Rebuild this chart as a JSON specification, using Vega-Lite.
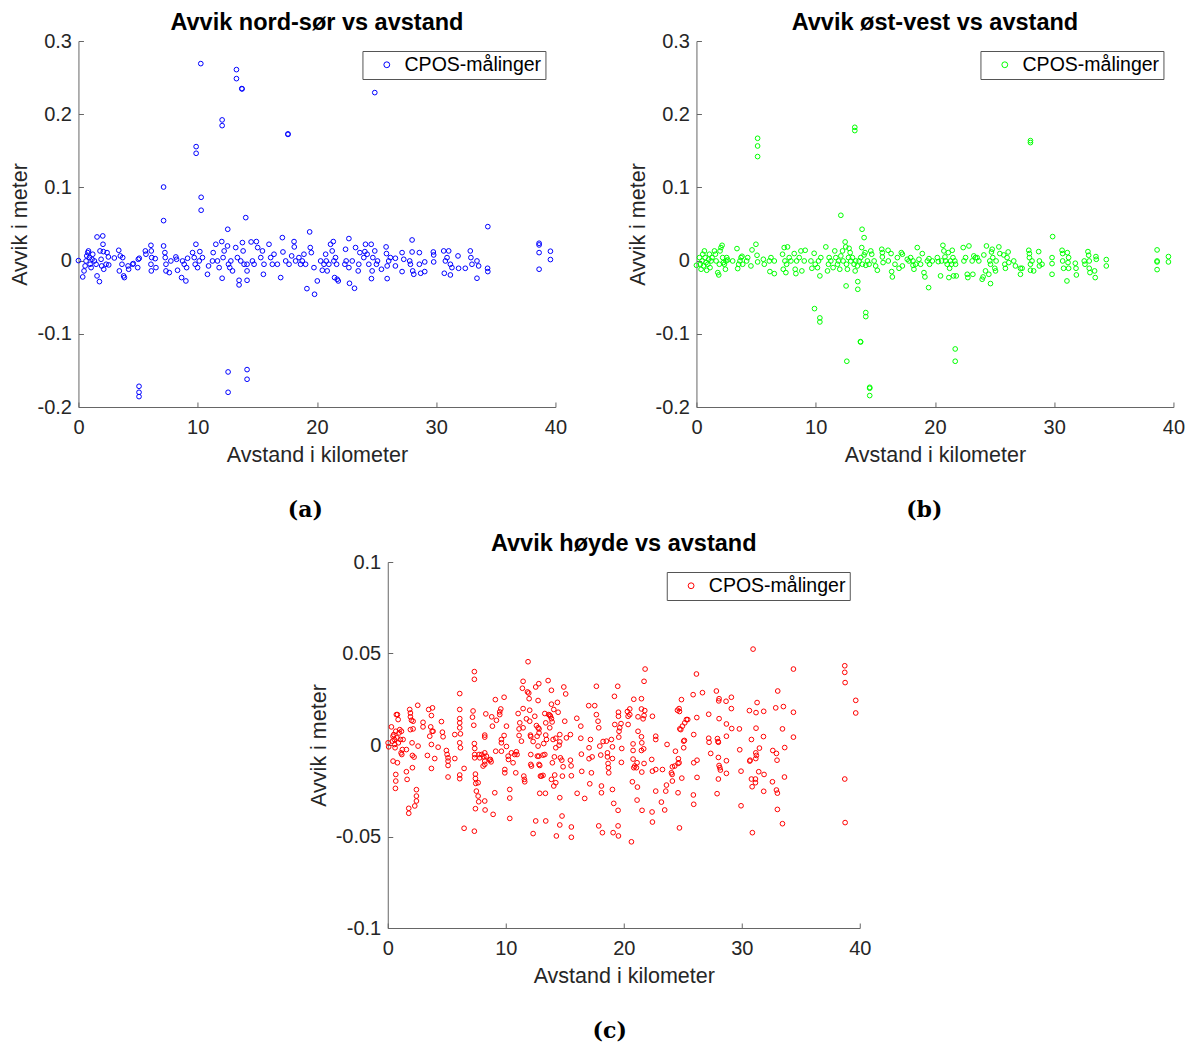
{
"$schema": "https://vega.github.io/schema/vega-lite/v6.json",
"background": "white",
"padding": {"left": 9, "top": 10, "right": 0, "bottom": 0},
"config": {
  "view": {"stroke": null},
  "font": "Liberation Sans",
  "axis": {"grid": false, "labelFlush": false, "domainColor": "#666666", "domainWidth": 1, "tickColor": "#666666", "tickSize": -5, "tickWidth": 1, "labelColor": "#262626", "titleColor": "#262626", "labelFontSize": 20, "titleFontSize": 21.5, "titleFontWeight": "normal", "labelFont": "Liberation Sans", "titleFont": "Liberation Sans"},
  "axisX": {"labelPadding": 15, "titlePadding": 7},
  "axisY": {"labelPadding": 12, "titlePadding": 5},
  "title": {"font": "Liberation Sans", "fontSize": 23.5, "fontWeight": "bold", "color": "#000000"},
  "legend": {"strokeColor": "#555555", "fillColor": "white", "padding": 4, "labelFontSize": 19.5, "labelFont": "Liberation Sans", "labelColor": "#000000", "symbolSize": 34, "symbolStrokeWidth": 1, "symbolType": "circle", "symbolOffset": 10.6, "labelOffset": 8}
},
"datasets": {
"a": [
{"km":0,"avvik":0},{"km":0.36,"avvik":-0.0223},{"km":0.47,"avvik":-0.0141},{"km":0.56,"avvik":-0.0073},{"km":0.64,"avvik":-0.0005},{"km":0.70,"avvik":0.0064},{"km":0.78,"avvik":0.0109},{"km":0.84,"avvik":0.0132},{"km":0.92,"avvik":0.0041},{"km":0.98,"avvik":-0.0050},
{"km":1.06,"avvik":-0.0096},{"km":1.14,"avvik":0.0018},{"km":1.20,"avvik":0.0087},{"km":1.34,"avvik":-0.0005},{"km":1.48,"avvik":-0.0050},{"km":1.56,"avvik":0.0323},{"km":1.56,"avvik":-0.0209},{"km":1.76,"avvik":-0.0287},{"km":1.81,"avvik":0.0132},{"km":1.90,"avvik":0.0018},
{"km":1.95,"avvik":-0.0073},{"km":2.04,"avvik":0.0337},{"km":2.06,"avvik":0.0223},{"km":2.09,"avvik":0.0123},{"km":2.12,"avvik":-0.0118},{"km":2.32,"avvik":-0.0050},{"km":2.40,"avvik":0.0109},{"km":2.51,"avvik":0.0050},{"km":2.54,"avvik":-0.0059},{"km":3.01,"avvik":0.0036},
{"km":3.38,"avvik":0.0141},{"km":3.43,"avvik":-0.0141},{"km":3.51,"avvik":0.0064},{"km":3.65,"avvik":-0.0050},{"km":3.71,"avvik":0.0041},{"km":3.79,"avvik":-0.0209},{"km":3.85,"avvik":-0.0232},{"km":4.16,"avvik":-0.0073},{"km":4.21,"avvik":-0.0118},{"km":4.55,"avvik":-0.0050},
{"km":4.60,"avvik":-0.0041},{"km":4.97,"avvik":-0.0096},{"km":5.02,"avvik":0.0018},{"km":5.10,"avvik":0.0032},{"km":5.61,"avvik":0.0132},{"km":5.66,"avvik":0.0087},{"km":6.08,"avvik":0.0209},{"km":6.11,"avvik":0.0132},{"km":6.14,"avvik":0.0041},{"km":6.08,"avvik":-0.0050},
{"km":6.11,"avvik":-0.0141},{"km":6.44,"avvik":0.0027},{"km":6.50,"avvik":-0.0096},{"km":7.14,"avvik":0.0200},{"km":7.25,"avvik":0.0109},{"km":7.28,"avvik":0.0041},{"km":7.34,"avvik":-0.0050},{"km":7.34,"avvik":-0.0141},{"km":7.62,"avvik":-0.0164},{"km":7.75,"avvik":-0.0005},
{"km":8.17,"avvik":0.0050},{"km":8.23,"avvik":0.0018},{"km":8.31,"avvik":-0.0132},{"km":8.65,"avvik":-0.0232},{"km":8.73,"avvik":-0.0005},{"km":8.87,"avvik":-0.0050},{"km":9.01,"avvik":-0.0278},{"km":9.15,"avvik":0.0032},{"km":9.07,"avvik":-0.0096},{"km":9.57,"avvik":0.0109},
{"km":9.71,"avvik":0.0041},{"km":9.85,"avvik":0.0223},{"km":9.79,"avvik":-0.0050},{"km":9.99,"avvik":-0.0096},{"km":10.13,"avvik":-0.0005},{"km":10.18,"avvik":0.0123},{"km":10.40,"avvik":0.0041},{"km":10.82,"avvik":-0.0187},{"km":10.91,"avvik":-0.0073},{"km":11.24,"avvik":-0.0005},
{"km":11.30,"avvik":0.0109},{"km":11.52,"avvik":0.0223},{"km":11.66,"avvik":-0.0005},{"km":11.80,"avvik":-0.0096},{"km":12.02,"avvik":0.0260},{"km":12.05,"avvik":-0.0241},{"km":12.13,"avvik":0.0041},{"km":12.22,"avvik":0.0132},{"km":12.50,"avvik":0.0200},{"km":12.58,"avvik":-0.0050},
{"km":12.69,"avvik":-0.0096},{"km":12.78,"avvik":-0.0005},{"km":12.92,"avvik":-0.0141},{"km":13.19,"avvik":0.0178},{"km":13.33,"avvik":0.0041},{"km":13.47,"avvik":-0.0269},{"km":13.47,"avvik":-0.0332},{"km":13.61,"avvik":-0.0005},{"km":13.75,"avvik":0.0246},{"km":13.81,"avvik":0.0132},
{"km":13.89,"avvik":-0.0050},{"km":14.14,"avvik":-0.0050},{"km":14.14,"avvik":-0.0141},{"km":14.14,"avvik":-0.0269},{"km":14.48,"avvik":0.0255},{"km":14.59,"avvik":-0.0005},{"km":14.73,"avvik":-0.0050},{"km":14.92,"avvik":0.0260},{"km":15.03,"avvik":0.0178},{"km":15.29,"avvik":0.0041},
{"km":15.43,"avvik":0.0132},{"km":15.51,"avvik":-0.0187},{"km":15.56,"avvik":-0.0050},{"km":15.98,"avvik":0.0223},{"km":16.12,"avvik":0.0041},{"km":16.26,"avvik":-0.0050},{"km":16.40,"avvik":0.0087},{"km":16.68,"avvik":-0.0050},{"km":16.96,"avvik":-0.0232},{"km":17.10,"avvik":0.0314},
{"km":17.15,"avvik":0.0118},{"km":17.38,"avvik":-0.0005},{"km":17.66,"avvik":-0.0050},{"km":17.88,"avvik":0.0064},{"km":18.08,"avvik":0.0260},{"km":18.10,"avvik":0.0187},{"km":18.21,"avvik":-0.0005},{"km":18.49,"avvik":0.0041},{"km":18.63,"avvik":-0.0050},{"km":18.77,"avvik":-0.0005},
{"km":18.91,"avvik":0.0087},{"km":19.05,"avvik":-0.0050},{"km":19.16,"avvik":-0.0383},{"km":19.39,"avvik":0.0392},{"km":19.44,"avvik":0.0178},{"km":19.53,"avvik":0.0109},{"km":19.75,"avvik":-0.0096},{"km":19.80,"avvik":-0.0460},{"km":20.03,"avvik":-0.0278},
{"km":20.31,"avvik":-0.0005},{"km":20.45,"avvik":-0.0132},{"km":20.59,"avvik":-0.0050},{"km":20.73,"avvik":0.0087},{"km":20.78,"avvik":-0.0005},{"km":20.86,"avvik":-0.0141},{"km":21.00,"avvik":-0.0050},{"km":21.14,"avvik":0.0223},{"km":21.28,"avvik":0.0132},{"km":21.37,"avvik":0.0260},
{"km":21.42,"avvik":-0.0005},{"km":21.48,"avvik":-0.0232},{"km":21.56,"avvik":0.0041},{"km":21.65,"avvik":-0.0050},{"km":21.70,"avvik":-0.0255},{"km":21.79,"avvik":-0.0278},{"km":22.34,"avvik":-0.0050},{"km":22.40,"avvik":0.0155},{"km":22.45,"avvik":-0.0005},{"km":22.68,"avvik":0.0301},
{"km":22.68,"avvik":-0.0096},{"km":22.73,"avvik":-0.0310},{"km":22.96,"avvik":-0.0005},{"km":23.15,"avvik":-0.0378},{"km":23.24,"avvik":0.0178},{"km":23.46,"avvik":-0.0141},{"km":23.51,"avvik":-0.0050},{"km":23.60,"avvik":0.0109},{"km":23.93,"avvik":0.0041},{"km":24.02,"avvik":0.0123},
{"km":24.07,"avvik":0.0223},{"km":24.21,"avvik":0.0087},{"km":24.35,"avvik":-0.0050},{"km":24.55,"avvik":0.0223},{"km":24.63,"avvik":-0.0141},{"km":24.57,"avvik":-0.0246},{"km":24.69,"avvik":0.0041},{"km":24.85,"avvik":0.0132},{"km":24.99,"avvik":-0.0050},{"km":25.08,"avvik":-0.0005},
{"km":25.41,"avvik":-0.0118},{"km":25.80,"avvik":0.0187},{"km":25.83,"avvik":0.0096},{"km":25.89,"avvik":-0.0073},{"km":25.89,"avvik":-0.0246},{"km":26.02,"avvik":-0.0005},{"km":26.16,"avvik":0.0041},{"km":26.58,"avvik":0.0032},{"km":26.58,"avvik":-0.0073},{"km":27.14,"avvik":0.0109},
{"km":27.14,"avvik":-0.0150},{"km":27.28,"avvik":0.0018},{"km":27.78,"avvik":-0.0005},{"km":27.84,"avvik":-0.0050},{"km":27.98,"avvik":0.0282},{"km":27.98,"avvik":0.0118},{"km":28.03,"avvik":-0.0141},{"km":28.12,"avvik":-0.0187},{"km":28.59,"avvik":0.0109},{"km":28.59,"avvik":-0.0050},
{"km":28.70,"avvik":-0.0173},{"km":29.04,"avvik":-0.0018},{"km":29.04,"avvik":-0.0150},{"km":29.76,"avvik":0.0118},{"km":29.79,"avvik":0.0077},{"km":29.79,"avvik":-0.0018},{"km":30.63,"avvik":0.0132},{"km":30.68,"avvik":-0.0173},{"km":30.77,"avvik":-0.0005},{"km":30.91,"avvik":0.0041},
{"km":31.05,"avvik":0.0132},{"km":31.19,"avvik":-0.0050},{"km":31.19,"avvik":-0.0196},{"km":31.32,"avvik":-0.0096},{"km":31.83,"avvik":0.0064},{"km":31.88,"avvik":-0.0105},{"km":32.44,"avvik":-0.0105},{"km":32.86,"avvik":0.0132},{"km":32.91,"avvik":0.0041},{"km":33.00,"avvik":-0.0050},
{"km":33.42,"avvik":-0.0005},{"km":33.42,"avvik":-0.0241},{"km":33.56,"avvik":-0.0073},{"km":34.31,"avvik":-0.0105},{"km":34.33,"avvik":-0.0150},
{"km":38.63,"avvik":0.0237},{"km":38.63,"avvik":0.0214},{"km":38.63,"avvik":0.0109},{"km":38.63,"avvik":-0.0118},{"km":39.58,"avvik":0.0128},{"km":39.58,"avvik":0.0014},
{"km":24.85,"avvik":0.2295},{"km":34.33,"avvik":0.0464},
{"km":10.26,"avvik":0.2691},{"km":13.25,"avvik":0.2609},{"km":13.25,"avvik":0.2486},{"km":13.70,"avvik":0.2350},{"km":13.72,"avvik":0.2345},{"km":12.05,"avvik":0.1922},{"km":12.05,"avvik":0.1844},{"km":17.57,"avvik":0.1731},{"km":17.57,"avvik":0.1724},{"km":9.87,"avvik":0.1557},
{"km":9.87,"avvik":0.1466},{"km":7.14,"avvik":0.1005},{"km":10.29,"avvik":0.0865},{"km":10.29,"avvik":0.0688},{"km":7.14,"avvik":0.0546},{"km":14.03,"avvik":0.0587},{"km":12.52,"avvik":0.0428},
{"km":5.08,"avvik":-0.1717},{"km":5.08,"avvik":-0.1799},{"km":5.08,"avvik":-0.1858},{"km":12.55,"avvik":-0.1521},{"km":12.55,"avvik":-0.1799},{"km":14.14,"avvik":-0.1489},{"km":14.14,"avvik":-0.1621}
],
"b": [
{"km":0,"avvik":-0.0064},{"km":0.25,"avvik":0.0041},{"km":0.33,"avvik":-0.0050},{"km":0.39,"avvik":-0.0118},{"km":0.47,"avvik":-0.0005},{"km":0.53,"avvik":0.0087},{"km":0.59,"avvik":-0.0073},{"km":0.67,"avvik":0.0132},{"km":0.73,"avvik":0.0041},{"km":0.81,"avvik":-0.0027},
{"km":0.86,"avvik":-0.0132},{"km":0.95,"avvik":-0.0050},{"km":1.03,"avvik":0.0018},{"km":1.09,"avvik":0.0087},{"km":1.14,"avvik":-0.0096},{"km":1.23,"avvik":-0.0005},{"km":1.31,"avvik":0.0041},{"km":1.51,"avvik":0.0132},{"km":1.59,"avvik":0.0087},{"km":1.65,"avvik":-0.0005},
{"km":1.79,"avvik":-0.0164},{"km":1.87,"avvik":-0.0196},{"km":1.92,"avvik":-0.0050},{"km":1.98,"avvik":0.0132},{"km":2.06,"avvik":0.0178},{"km":2.15,"avvik":0.0209},{"km":2.20,"avvik":0.0041},{"km":2.26,"avvik":-0.0027},{"km":2.34,"avvik":-0.0050},{"km":2.43,"avvik":-0.0118},
{"km":2.48,"avvik":-0.0005},{"km":2.54,"avvik":0.0041},{"km":2.62,"avvik":0.0009},{"km":3.04,"avvik":-0.0005},{"km":3.40,"avvik":0.0164},{"km":3.46,"avvik":-0.0109},{"km":3.54,"avvik":-0.0050},{"km":3.65,"avvik":-0.0005},{"km":3.74,"avvik":0.0041},{"km":3.82,"avvik":0.0059},
{"km":3.88,"avvik":-0.0050},{"km":4.21,"avvik":-0.0005},{"km":4.30,"avvik":0.0041},{"km":4.57,"avvik":-0.0073},{"km":4.66,"avvik":0.0146},{"km":4.99,"avvik":0.0223},{"km":5.08,"avvik":0.0073},{"km":5.13,"avvik":-0.0018},{"km":5.61,"avvik":0.0018},{"km":5.69,"avvik":-0.0050},
{"km":6.11,"avvik":-0.0005},{"km":6.16,"avvik":-0.0150},{"km":6.25,"avvik":0.0041},{"km":6.53,"avvik":-0.0178},{"km":6.53,"avvik":-0.0005},{"km":7.22,"avvik":0.0087},{"km":7.28,"avvik":-0.0118},{"km":7.36,"avvik":0.0178},{"km":7.42,"avvik":-0.0005},{"km":7.50,"avvik":-0.0164},
{"km":7.56,"avvik":-0.0050},{"km":7.64,"avvik":0.0187},{"km":7.78,"avvik":0.0041},{"km":7.92,"avvik":-0.0005},{"km":8.20,"avvik":0.0096},{"km":8.28,"avvik":-0.0118},{"km":8.34,"avvik":-0.0178},{"km":8.40,"avvik":-0.0005},{"km":8.62,"avvik":0.0041},{"km":8.76,"avvik":0.0132},
{"km":8.84,"avvik":-0.0141},{"km":9.04,"avvik":-0.0005},{"km":9.12,"avvik":0.0141},{"km":9.60,"avvik":-0.0005},{"km":9.68,"avvik":-0.0105},{"km":9.87,"avvik":0.0100},{"km":9.96,"avvik":-0.0050},{"km":10.15,"avvik":-0.0096},{"km":10.24,"avvik":-0.0005},{"km":10.35,"avvik":-0.0209},
{"km":10.43,"avvik":0.0041},{"km":10.85,"avvik":0.0187},{"km":10.99,"avvik":-0.0141},{"km":11.07,"avvik":-0.0050},{"km":11.13,"avvik":0.0041},{"km":11.27,"avvik":-0.0005},{"km":11.46,"avvik":-0.0096},{"km":11.60,"avvik":0.0132},{"km":11.69,"avvik":0.0041},{"km":11.83,"avvik":-0.0050},
{"km":11.91,"avvik":-0.0005},{"km":12.02,"avvik":-0.0118},{"km":12.11,"avvik":0.0064},{"km":12.25,"avvik":0.0132},{"km":12.30,"avvik":-0.0005},{"km":12.47,"avvik":0.0255},{"km":12.52,"avvik":0.0187},{"km":12.58,"avvik":-0.0050},{"km":12.66,"avvik":-0.0118},{"km":12.75,"avvik":0.0041},
{"km":12.80,"avvik":0.0168},{"km":12.89,"avvik":0.0109},{"km":12.94,"avvik":-0.0005},{"km":13.08,"avvik":0.0041},{"km":13.22,"avvik":-0.0050},{"km":13.31,"avvik":-0.0141},{"km":13.36,"avvik":-0.0005},{"km":13.50,"avvik":-0.0073},{"km":13.64,"avvik":-0.0005},{"km":13.78,"avvik":0.0041},
{"km":13.86,"avvik":0.0178},{"km":13.92,"avvik":-0.0050},{"km":14.06,"avvik":0.0077},{"km":14.14,"avvik":0.0109},{"km":14.20,"avvik":-0.0064},{"km":14.34,"avvik":-0.0005},{"km":14.48,"avvik":-0.0050},{"km":14.62,"avvik":0.0132},{"km":14.70,"avvik":0.0087},{"km":14.90,"avvik":-0.0005},
{"km":15.03,"avvik":-0.0073},{"km":15.17,"avvik":-0.0132},{"km":15.54,"avvik":0.0155},{"km":15.59,"avvik":0.0109},{"km":15.59,"avvik":0.0050},{"km":15.65,"avvik":-0.0027},{"km":16.07,"avvik":0.0141},{"km":16.09,"avvik":-0.0005},{"km":16.32,"avvik":0.0096},{"km":16.37,"avvik":-0.0150},
{"km":16.43,"avvik":-0.0223},{"km":16.65,"avvik":-0.0050},{"km":16.85,"avvik":0.0041},{"km":16.99,"avvik":-0.0105},{"km":17.18,"avvik":0.0109},{"km":17.27,"avvik":0.0087},{"km":17.27,"avvik":-0.0073},{"km":17.68,"avvik":0.0018},{"km":17.82,"avvik":-0.0005},{"km":17.96,"avvik":0.0041},
{"km":18.16,"avvik":-0.0005},{"km":18.16,"avvik":-0.0064},{"km":18.24,"avvik":-0.0118},{"km":18.38,"avvik":-0.0050},{"km":18.52,"avvik":0.0178},{"km":18.66,"avvik":0.0018},{"km":18.80,"avvik":-0.0050},{"km":18.94,"avvik":0.0096},{"km":19.08,"avvik":-0.0164},{"km":19.16,"avvik":-0.0223},
{"km":19.36,"avvik":-0.0005},{"km":19.50,"avvik":0.0027},{"km":19.55,"avvik":-0.0050},{"km":19.78,"avvik":-0.0005},{"km":20.20,"avvik":0.0041},{"km":20.28,"avvik":-0.0014},
{"km":20.47,"avvik":-0.0209},{"km":20.56,"avvik":-0.0005},{"km":20.67,"avvik":0.0209},{"km":20.75,"avvik":0.0132},{"km":20.84,"avvik":0.0050},{"km":20.89,"avvik":-0.0005},{"km":21.03,"avvik":-0.0050},{"km":21.12,"avvik":0.0109},{"km":21.17,"avvik":-0.0232},{"km":21.23,"avvik":-0.0105},
{"km":21.31,"avvik":-0.0005},{"km":21.39,"avvik":-0.0050},{"km":21.45,"avvik":0.0141},{"km":21.51,"avvik":0.0041},{"km":21.56,"avvik":-0.0209},{"km":21.67,"avvik":-0.0005},{"km":21.73,"avvik":-0.0050},{"km":21.79,"avvik":-0.0209},{"km":22.37,"avvik":0.0178},{"km":22.43,"avvik":-0.0005},
{"km":22.57,"avvik":0.0041},{"km":22.71,"avvik":-0.0187},{"km":22.76,"avvik":-0.0232},{"km":22.85,"avvik":0.0200},{"km":23.12,"avvik":-0.0005},{"km":23.18,"avvik":-0.0187},{"km":23.26,"avvik":0.0064},{"km":23.40,"avvik":0.0041},{"km":23.54,"avvik":0.0041},{"km":23.68,"avvik":-0.0005},
{"km":23.96,"avvik":-0.0255},{"km":24.04,"avvik":-0.0223},{"km":24.10,"avvik":0.0077},{"km":24.24,"avvik":-0.0141},{"km":24.32,"avvik":0.0200},{"km":24.52,"avvik":-0.0187},{"km":24.60,"avvik":-0.0005},{"km":24.66,"avvik":-0.0050},{"km":24.66,"avvik":-0.0314},{"km":24.74,"avvik":0.0118},
{"km":24.80,"avvik":0.0155},{"km":24.85,"avvik":0.0041},{"km":25.02,"avvik":-0.0105},{"km":25.08,"avvik":-0.0141},{"km":25.13,"avvik":-0.0005},{"km":25.36,"avvik":0.0187},{"km":25.44,"avvik":0.0096},{"km":25.77,"avvik":0.0077},{"km":25.86,"avvik":-0.0050},{"km":25.91,"avvik":-0.0105},
{"km":26.05,"avvik":0.0041},{"km":26.14,"avvik":0.0118},{"km":26.19,"avvik":-0.0027},{"km":26.61,"avvik":-0.0005},{"km":26.75,"avvik":-0.0073},{"km":27.17,"avvik":-0.0105},{"km":27.17,"avvik":-0.0187},{"km":27.31,"avvik":-0.0105},{"km":27.87,"avvik":0.0141},{"km":27.92,"avvik":0.0096},
{"km":27.92,"avvik":0.0041},{"km":28.01,"avvik":-0.0050},{"km":28.01,"avvik":-0.0132},{"km":28.14,"avvik":-0.0005},{"km":28.28,"avvik":-0.0141},{"km":28.70,"avvik":0.0123},{"km":28.76,"avvik":-0.0005},{"km":28.76,"avvik":-0.0073},{"km":28.98,"avvik":-0.0050},{"km":29.82,"avvik":0.0041},
{"km":29.82,"avvik":-0.0041},{"km":29.82,"avvik":-0.0187},{"km":30.66,"avvik":0.0141},{"km":30.71,"avvik":0.0096},{"km":30.71,"avvik":-0.0005},{"km":30.79,"avvik":-0.0105},{"km":31.07,"avvik":-0.0278},{"km":31.10,"avvik":0.0109},{"km":31.16,"avvik":-0.0027},{"km":31.21,"avvik":0.0041},
{"km":31.21,"avvik":-0.0105},{"km":31.77,"avvik":-0.0036},{"km":31.83,"avvik":-0.0105},{"km":31.86,"avvik":-0.0196},{"km":32.52,"avvik":-0.0005},{"km":32.58,"avvik":-0.0050},{"km":32.83,"avvik":0.0123},{"km":32.89,"avvik":0.0073},{"km":32.94,"avvik":-0.0005},{"km":32.94,"avvik":-0.0105},
{"km":33.00,"avvik":-0.0164},{"km":33.39,"avvik":-0.0141},{"km":33.44,"avvik":-0.0232},{"km":33.50,"avvik":0.0055},{"km":33.53,"avvik":0.0018},{"km":34.37,"avvik":0.0014},{"km":34.37,"avvik":-0.0073},
{"km":38.63,"avvik":0.0146},{"km":38.63,"avvik":-0.0005},{"km":38.63,"avvik":-0.0018},{"km":38.63,"avvik":-0.0123},{"km":39.58,"avvik":0.0055},{"km":39.58,"avvik":-0.0018},
{"km":28.01,"avvik":0.1639},{"km":28.01,"avvik":0.1612},{"km":21.70,"avvik":-0.1207},{"km":21.70,"avvik":-0.1375},{"km":29.87,"avvik":0.0328},
{"km":5.13,"avvik":0.1671},{"km":5.13,"avvik":0.1566},{"km":5.13,"avvik":0.1421},{"km":13.28,"avvik":0.1821},{"km":13.28,"avvik":0.1776},{"km":12.11,"avvik":0.0619},{"km":13.89,"avvik":0.0428},{"km":14.06,"avvik":0.0314},{"km":12.55,"avvik":-0.0346},{"km":13.53,"avvik":-0.0287},
{"km":13.53,"avvik":-0.0392},{"km":9.90,"avvik":-0.0656},{"km":10.35,"avvik":-0.0783},{"km":10.35,"avvik":-0.0838},{"km":14.20,"avvik":-0.0710},{"km":14.20,"avvik":-0.0765},{"km":13.75,"avvik":-0.1107},{"km":13.77,"avvik":-0.1112},{"km":12.61,"avvik":-0.1375},{"km":14.53,"avvik":-0.1731},
{"km":14.53,"avvik":-0.1744},{"km":14.53,"avvik":-0.1844},{"km":19.47,"avvik":-0.0369}
],
"c": [
{"km":0.03,"avvik":0.0012},{"km":0.08,"avvik":-0.0010},{"km":0.31,"avvik":0.0099},{"km":0.40,"avvik":0.0021},{"km":0.45,"avvik":0.0048},{"km":0.51,"avvik":0.0057},{"km":0.56,"avvik":0.0030},{"km":0.59,"avvik":0.0003},{"km":0.62,"avvik":-0.0015},{"km":0.68,"avvik":0.0075},
{"km":0.73,"avvik":0.0166},{"km":0.79,"avvik":0.0039},{"km":0.82,"avvik":0.0166},{"km":0.88,"avvik":0.0139},{"km":0.90,"avvik":0.0012},{"km":0.96,"avvik":0.0066},{"km":1.02,"avvik":0.0084},{"km":1.07,"avvik":0.0030},{"km":1.16,"avvik":0.0075},{"km":1.13,"avvik":-0.0043},
{"km":1.19,"avvik":-0.0052},{"km":1.24,"avvik":-0.0025},{"km":1.30,"avvik":0.0030},{"km":0.68,"avvik":-0.0161},{"km":0.68,"avvik":-0.0197},{"km":0.65,"avvik":-0.0237},{"km":0.45,"avvik":-0.0088},{"km":0.82,"avvik":-0.0097},{"km":1.58,"avvik":-0.0025},{"km":1.58,"avvik":-0.0146},
{"km":1.64,"avvik":-0.0188},{"km":1.78,"avvik":-0.0346},{"km":1.78,"avvik":-0.0373},{"km":1.86,"avvik":0.0194},{"km":1.92,"avvik":0.0175},{"km":1.92,"avvik":0.0154},{"km":1.92,"avvik":0.0084},{"km":2.01,"avvik":0.0135},{"km":2.06,"avvik":0.0012},{"km":2.09,"avvik":-0.0057},
{"km":2.15,"avvik":0.0130},{"km":2.09,"avvik":-0.0124},{"km":2.15,"avvik":0.0088},{"km":2.23,"avvik":-0.0066},{"km":2.29,"avvik":-0.0333},{"km":2.43,"avvik":-0.0244},{"km":2.43,"avvik":-0.0279},{"km":2.43,"avvik":-0.0306},{"km":2.54,"avvik":0.0217},{"km":2.57,"avvik":-0.0006},
{"km":2.99,"avvik":0.0124},{"km":2.99,"avvik":0.0099},{"km":3.36,"avvik":-0.0057},{"km":3.47,"avvik":0.0194},{"km":3.56,"avvik":0.0048},{"km":3.64,"avvik":0.0099},{"km":3.70,"avvik":0.0161},{"km":3.70,"avvik":0.0003},{"km":3.76,"avvik":0.0075},{"km":3.79,"avvik":0.0203},
{"km":3.84,"avvik":0.0075},{"km":3.70,"avvik":-0.0128},{"km":3.98,"avvik":-0.0074},{"km":4.27,"avvik":-0.0012},{"km":4.55,"avvik":0.0128},{"km":4.63,"avvik":0.0070},{"km":4.69,"avvik":0.0045},{"km":4.97,"avvik":-0.0030},{"km":5.03,"avvik":-0.0052},{"km":5.11,"avvik":-0.0070},
{"km":5.11,"avvik":-0.0088},{"km":5.11,"avvik":-0.0112},{"km":5.11,"avvik":-0.0175},{"km":5.68,"avvik":-0.0074},{"km":5.68,"avvik":0.0057},{"km":6.10,"avvik":0.0281},{"km":6.10,"avvik":0.0194},{"km":6.10,"avvik":0.0144},{"km":6.10,"avvik":0.0121},{"km":6.10,"avvik":0.0094},
{"km":6.10,"avvik":0.0012},{"km":6.16,"avvik":-0.0015},{"km":6.10,"avvik":-0.0164},{"km":6.10,"avvik":-0.0184},{"km":6.16,"avvik":0.0061},{"km":6.47,"avvik":-0.0128},{"km":6.47,"avvik":-0.0455},{"km":7.18,"avvik":0.0152},{"km":7.23,"avvik":0.0186},{"km":7.29,"avvik":0.0108},
{"km":7.34,"avvik":0.0401},{"km":7.34,"avvik":0.0359},{"km":7.34,"avvik":0.0008},{"km":7.37,"avvik":-0.0019},{"km":7.37,"avvik":-0.0052},{"km":7.37,"avvik":-0.0070},{"km":7.43,"avvik":-0.0159},{"km":7.43,"avvik":-0.0183},{"km":7.46,"avvik":-0.0210},{"km":7.51,"avvik":-0.0252},
{"km":7.66,"avvik":-0.0279},{"km":7.71,"avvik":-0.0310},{"km":7.43,"avvik":-0.0348},{"km":7.34,"avvik":-0.0471},{"km":7.66,"avvik":-0.0206},{"km":7.74,"avvik":-0.0052},{"km":7.80,"avvik":-0.0070},{"km":7.97,"avvik":-0.0052},{"km":8.08,"avvik":-0.0115},{"km":8.14,"avvik":-0.0065},
{"km":8.22,"avvik":-0.0043},{"km":8.22,"avvik":-0.0088},{"km":8.22,"avvik":-0.0106},{"km":8.22,"avvik":0.0054},{"km":8.22,"avvik":0.0043},{"km":8.22,"avvik":-0.0306},{"km":8.25,"avvik":-0.0355},{"km":8.31,"avvik":0.0170},{"km":8.36,"avvik":-0.0061},{"km":8.64,"avvik":-0.0083},
{"km":8.70,"avvik":-0.0079},{"km":8.76,"avvik":-0.0092},{"km":8.81,"avvik":0.0154},{"km":8.87,"avvik":0.0103},{"km":8.93,"avvik":-0.0379},{"km":9.07,"avvik":-0.0261},{"km":9.21,"avvik":0.0135},{"km":9.12,"avvik":0.0248},{"km":9.15,"avvik":-0.0034},{"km":9.49,"avvik":0.0181},
{"km":9.49,"avvik":0.0166},{"km":9.58,"avvik":0.0197},{"km":9.63,"avvik":0.0030},{"km":9.63,"avvik":0.0012},{"km":9.63,"avvik":-0.0034},{"km":9.86,"avvik":0.0261},{"km":9.86,"avvik":0.0052},{"km":9.92,"avvik":-0.0152},{"km":9.92,"avvik":-0.0134},{"km":10.06,"avvik":0.0103},
{"km":10.06,"avvik":-0.0008},{"km":10.20,"avvik":-0.0061},{"km":10.23,"avvik":-0.0079},{"km":10.34,"avvik":-0.0243},{"km":10.34,"avvik":-0.0290},{"km":10.34,"avvik":-0.0401},{"km":10.48,"avvik":-0.0043},{"km":10.62,"avvik":-0.0097},{"km":10.76,"avvik":-0.0052},{"km":10.85,"avvik":-0.0152},
{"km":10.90,"avvik":-0.0037},{"km":10.96,"avvik":-0.0052},{"km":11.05,"avvik":0.0172},{"km":11.13,"avvik":0.0088},{"km":11.13,"avvik":0.0052},{"km":11.19,"avvik":0.0121},{"km":11.33,"avvik":0.0021},{"km":11.41,"avvik":0.0310},{"km":11.47,"avvik":0.0348},{"km":11.47,"avvik":0.0199},
{"km":11.47,"avvik":0.0094},{"km":11.53,"avvik":-0.0170},{"km":11.58,"avvik":-0.0188},{"km":11.61,"avvik":-0.0201},{"km":11.75,"avvik":0.0143},{"km":11.84,"avvik":0.0290},{"km":11.89,"avvik":0.0455},{"km":11.95,"avvik":0.0284},{"km":11.98,"avvik":0.0253},{"km":12.03,"avvik":0.0190},
{"km":12.03,"avvik":0.0130},{"km":12.09,"avvik":0.0054},{"km":12.12,"avvik":0.0046},{"km":12.12,"avvik":-0.0052},{"km":12.12,"avvik":-0.0106},{"km":12.18,"avvik":-0.0115},{"km":12.32,"avvik":0.0019},{"km":12.32,"avvik":-0.0484},{"km":12.46,"avvik":0.0157},{"km":12.54,"avvik":0.0317},
{"km":12.54,"avvik":-0.0415},{"km":12.60,"avvik":0.0106},{"km":12.66,"avvik":0.0048},{"km":12.68,"avvik":-0.0061},{"km":12.74,"avvik":0.0243},{"km":12.74,"avvik":0.0094},{"km":12.74,"avvik":-0.0006},{"km":12.80,"avvik":0.0335},{"km":12.82,"avvik":0.0088},{"km":12.82,"avvik":0.0066},
{"km":12.80,"avvik":-0.0061},{"km":12.82,"avvik":-0.0106},{"km":12.88,"avvik":-0.0112},{"km":12.88,"avvik":-0.0264},{"km":12.94,"avvik":-0.0170},{"km":13.02,"avvik":-0.0170},{"km":13.16,"avvik":-0.0166},{"km":13.16,"avvik":-0.0055},{"km":13.22,"avvik":0.0008},{"km":13.31,"avvik":0.0172},
{"km":13.31,"avvik":-0.0052},{"km":13.36,"avvik":-0.0264},{"km":13.39,"avvik":0.0121},{"km":13.39,"avvik":0.0054},{"km":13.39,"avvik":-0.0415},{"km":13.45,"avvik":0.0030},{"km":13.59,"avvik":0.0352},{"km":13.64,"avvik":0.0166},{"km":13.73,"avvik":0.0163},{"km":13.73,"avvik":0.0094},
{"km":13.79,"avvik":0.0157},{"km":13.87,"avvik":0.0299},{"km":13.87,"avvik":0.0223},{"km":13.87,"avvik":-0.0188},{"km":13.87,"avvik":0.0144},{"km":13.93,"avvik":0.0126},{"km":13.95,"avvik":-0.0097},{"km":14.01,"avvik":0.0030},{"km":14.07,"avvik":-0.0224},{"km":14.07,"avvik":0.0194},
{"km":14.12,"avvik":-0.0065},{"km":14.15,"avvik":-0.0164},{"km":14.24,"avvik":0.0037},{"km":14.24,"avvik":-0.0015},{"km":14.24,"avvik":-0.0206},{"km":14.29,"avvik":-0.0497},{"km":14.38,"avvik":0.0233},{"km":14.44,"avvik":0.0179},{"km":14.52,"avvik":-0.0001},{"km":14.58,"avvik":0.0057},
{"km":14.58,"avvik":0.0017},{"km":14.58,"avvik":-0.0437},{"km":14.58,"avvik":-0.0288},{"km":14.63,"avvik":-0.0070},{"km":14.75,"avvik":-0.0083},{"km":14.77,"avvik":-0.0388},{"km":14.80,"avvik":-0.0170},{"km":14.86,"avvik":-0.0119},{"km":14.92,"avvik":0.0317},{"km":15.00,"avvik":0.0130},
{"km":15.08,"avvik":0.0279},{"km":15.14,"avvik":0.0039},{"km":15.48,"avvik":0.0057},{"km":15.48,"avvik":-0.0083},{"km":15.54,"avvik":-0.0114},{"km":15.56,"avvik":-0.0448},{"km":15.56,"avvik":-0.0504},{"km":15.56,"avvik":-0.0168},{"km":16.02,"avvik":0.0146},{"km":16.05,"avvik":-0.0264},
{"km":16.36,"avvik":0.0103},{"km":16.36,"avvik":0.0037},{"km":16.41,"avvik":-0.0050},{"km":16.44,"avvik":-0.0144},{"km":16.69,"avvik":-0.0292},{"km":17.03,"avvik":0.0215},{"km":17.06,"avvik":-0.0015},{"km":17.06,"avvik":-0.0075},{"km":17.12,"avvik":-0.0212},{"km":17.18,"avvik":0.0030},
{"km":17.26,"avvik":-0.0152},{"km":17.32,"avvik":-0.0065},{"km":17.54,"avvik":0.0215},{"km":17.68,"avvik":0.0321},{"km":17.68,"avvik":0.0166},{"km":17.82,"avvik":0.0130},{"km":17.88,"avvik":0.0094},{"km":17.88,"avvik":-0.0442},{"km":17.97,"avvik":-0.0006},{"km":18.05,"avvik":-0.0055},
{"km":18.11,"avvik":-0.0224},{"km":18.11,"avvik":-0.0261},{"km":18.19,"avvik":-0.0479},{"km":18.25,"avvik":0.0019},{"km":18.53,"avvik":0.0021},{"km":18.62,"avvik":-0.0043},{"km":18.62,"avvik":-0.0065},{"km":18.67,"avvik":-0.0101},{"km":18.70,"avvik":-0.0124},{"km":18.73,"avvik":-0.0152},
{"km":18.95,"avvik":0.0030},{"km":19.04,"avvik":-0.0010},{"km":19.04,"avvik":-0.0074},{"km":19.04,"avvik":-0.0243},{"km":19.10,"avvik":-0.0479},{"km":19.15,"avvik":-0.0319},{"km":19.21,"avvik":0.0266},{"km":19.24,"avvik":0.0112},{"km":19.49,"avvik":0.0321},{"km":19.55,"avvik":0.0179},
{"km":19.55,"avvik":0.0157},{"km":19.52,"avvik":-0.0357},{"km":19.52,"avvik":-0.0442},{"km":19.55,"avvik":-0.0497},{"km":19.60,"avvik":0.0075},{"km":19.66,"avvik":0.0094},{"km":19.77,"avvik":0.0117},{"km":19.83,"avvik":-0.0019},{"km":19.80,"avvik":-0.0095},{"km":19.58,"avvik":0.0043},
{"km":20.31,"avvik":0.0183},{"km":20.37,"avvik":0.0112},{"km":20.37,"avvik":0.0157},{"km":20.51,"avvik":0.0197},{"km":20.51,"avvik":0.0166},{"km":20.65,"avvik":-0.0529},{"km":20.73,"avvik":-0.0201},{"km":20.79,"avvik":0.0006},{"km":20.79,"avvik":-0.0030},{"km":20.79,"avvik":-0.0077},
{"km":20.85,"avvik":0.0250},{"km":20.85,"avvik":-0.0124},{"km":20.93,"avvik":-0.0115},{"km":21.07,"avvik":-0.0124},{"km":21.13,"avvik":-0.0097},{"km":21.16,"avvik":-0.0230},{"km":21.13,"avvik":-0.0301},{"km":21.21,"avvik":0.0075},{"km":21.21,"avvik":0.0154},{"km":21.50,"avvik":-0.0030},
{"km":21.53,"avvik":0.0012},{"km":21.50,"avvik":0.0045},{"km":21.50,"avvik":0.0253},{"km":21.50,"avvik":0.0197},{"km":21.53,"avvik":-0.0148},{"km":21.55,"avvik":-0.0357},{"km":21.64,"avvik":0.0143},{"km":21.69,"avvik":-0.0021},{"km":21.72,"avvik":-0.0101},{"km":21.72,"avvik":0.0161},
{"km":21.72,"avvik":0.0348},{"km":21.78,"avvik":0.0188},{"km":21.81,"avvik":0.0415},{"km":22.37,"avvik":-0.0079},{"km":22.40,"avvik":-0.0366},{"km":22.43,"avvik":-0.0421},{"km":22.43,"avvik":0.0157},{"km":22.43,"avvik":-0.0143},{"km":22.71,"avvik":0.0048},{"km":22.71,"avvik":0.0030},
{"km":22.71,"avvik":-0.0134},{"km":22.71,"avvik":-0.0252},{"km":23.19,"avvik":-0.0312},{"km":23.28,"avvik":-0.0134},{"km":23.47,"avvik":-0.0355},{"km":23.56,"avvik":-0.0252},{"km":23.62,"avvik":-0.0219},{"km":23.67,"avvik":0.0003},{"km":24.04,"avvik":-0.0152},{"km":24.10,"avvik":-0.0161},
{"km":24.12,"avvik":-0.0119},{"km":24.12,"avvik":-0.0197},{"km":24.32,"avvik":-0.0115},{"km":24.38,"avvik":-0.0034},{"km":24.55,"avvik":0.0190},{"km":24.60,"avvik":-0.0261},{"km":24.60,"avvik":-0.0101},{"km":24.63,"avvik":-0.0075},{"km":24.69,"avvik":0.0199},{"km":24.69,"avvik":-0.0097},
{"km":24.72,"avvik":0.0183},{"km":24.72,"avvik":-0.0453},{"km":24.75,"avvik":0.0088},{"km":24.83,"avvik":0.0084},{"km":24.89,"avvik":0.0248},{"km":24.92,"avvik":-0.0181},{"km":24.97,"avvik":0.0103},{"km":25.08,"avvik":-0.0015},{"km":25.08,"avvik":0.0021},{"km":25.14,"avvik":0.0025},
{"km":25.17,"avvik":0.0121},{"km":25.31,"avvik":0.0139},{"km":25.42,"avvik":0.0139},{"km":25.88,"avvik":0.0275},{"km":25.93,"avvik":0.0057},{"km":25.93,"avvik":-0.0097},{"km":25.90,"avvik":-0.0273},{"km":25.93,"avvik":-0.0324},{"km":26.16,"avvik":0.0388},{"km":26.19,"avvik":0.0150},
{"km":26.21,"avvik":-0.0177},{"km":26.21,"avvik":-0.0083},{"km":26.67,"avvik":0.0286},{"km":27.20,"avvik":0.0168},{"km":27.20,"avvik":0.0037},{"km":27.23,"avvik":0.0015},{"km":27.37,"avvik":-0.0046},{"km":27.85,"avvik":0.0295},{"km":27.91,"avvik":-0.0266},{"km":27.94,"avvik":0.0035},
{"km":27.99,"avvik":0.0019},{"km":28.02,"avvik":-0.0068},{"km":28.02,"avvik":0.0015},{"km":28.02,"avvik":-0.0186},{"km":28.05,"avvik":0.0241},{"km":28.08,"avvik":0.0253},{"km":28.08,"avvik":0.0144},{"km":28.08,"avvik":-0.0112},{"km":28.14,"avvik":-0.0124},{"km":28.19,"avvik":-0.0137},
{"km":28.67,"avvik":0.0239},{"km":28.70,"avvik":0.0115},{"km":28.70,"avvik":0.0048},{"km":28.70,"avvik":-0.0086},{"km":28.70,"avvik":-0.0155},{"km":29.12,"avvik":0.0261},{"km":29.12,"avvik":0.0199},{"km":29.15,"avvik":0.0090},{"km":29.80,"avvik":0.0088},{"km":29.83,"avvik":-0.0026},
{"km":29.94,"avvik":-0.0143},{"km":29.94,"avvik":-0.0332},{"km":30.65,"avvik":0.0188},{"km":30.68,"avvik":-0.0088},{"km":30.71,"avvik":-0.0083},{"km":30.82,"avvik":0.0030},{"km":30.82,"avvik":-0.0186},{"km":30.88,"avvik":-0.0228},{"km":30.90,"avvik":-0.0479},{"km":30.96,"avvik":0.0524},
{"km":31.16,"avvik":-0.0186},{"km":31.16,"avvik":-0.0206},{"km":31.19,"avvik":-0.0043},{"km":31.19,"avvik":-0.0074},{"km":31.21,"avvik":0.0177},{"km":31.21,"avvik":0.0092},{"km":31.24,"avvik":-0.0057},{"km":31.30,"avvik":0.0232},{"km":31.44,"avvik":-0.0146},{"km":31.50,"avvik":-0.0017},
{"km":31.84,"avvik":0.0046},{"km":31.86,"avvik":0.0184},{"km":31.86,"avvik":-0.0253},{"km":31.89,"avvik":-0.0161},{"km":32.60,"avvik":-0.0201},{"km":32.63,"avvik":-0.0030},{"km":32.88,"avvik":0.0203},{"km":32.94,"avvik":-0.0046},{"km":32.94,"avvik":-0.0246},{"km":32.99,"avvik":-0.0083},
{"km":33.02,"avvik":-0.0263},{"km":33.02,"avvik":-0.0352},{"km":33.05,"avvik":0.0295},{"km":33.45,"avvik":0.0088},{"km":33.45,"avvik":-0.0430},{"km":33.53,"avvik":0.0210},{"km":33.62,"avvik":-0.0175},{"km":33.64,"avvik":-0.0014},{"km":34.38,"avvik":0.0415},{"km":34.38,"avvik":0.0179},
{"km":34.38,"avvik":0.0043},{"km":38.73,"avvik":0.0433},{"km":38.73,"avvik":0.0397},{"km":38.76,"avvik":0.0341},{"km":38.73,"avvik":-0.0186},{"km":38.76,"avvik":-0.0424},{"km":39.66,"avvik":0.0244},{"km":39.66,"avvik":0.0175}
]
},
"resolve": {"scale": {"color": "independent"}, "legend": {"color": "independent"}},
"center": true,
"spacing": 10,
"vconcat": [
  {
    "hconcat": [
      {
        "title": {"text": "(a)", "orient": "bottom", "anchor": "middle", "font": "DejaVu Serif", "fontSize": 22, "fontWeight": "bold", "color": "#000000", "offset": 34, "dx": 17},
        "resolve": {"scale": {"color": "independent"}, "legend": {"color": "independent"}},
        "vconcat": [
          {
            "width": 477, "height": 366,
            "title": {"text": "Avvik nord-sør vs avstand", "anchor": "middle", "frame": "group", "offset": -3},
            "data": {"name": "a"},
            "mark": {"type": "point", "shape": "circle", "filled": false, "size": 22, "strokeWidth": 1, "opacity": 1},
            "encoding": {
              "x": {"field": "km", "type": "quantitative", "scale": {"domain": [0, 40], "nice": false}, "axis": {"values": [0, 10, 20, 30, 40], "title": "Avstand i kilometer", "labelExpr": "toString(datum.value)"}},
              "y": {"field": "avvik", "type": "quantitative", "scale": {"domain": [-0.2, 0.3], "nice": false, "zero": false}, "axis": {"values": [-0.2, -0.1, 0, 0.1, 0.2, 0.3], "title": "Avvik i meter", "labelExpr": "toString(datum.value)"}},
              "color": {"datum": "CPOS-målinger", "type": "nominal", "scale": {"range": ["#0000ff"]}, "legend": {"title": null, "orient": "top-right", "offset": 10}}
            }
          }
        ]
      },
      {
        "title": {"text": "(b)", "orient": "bottom", "anchor": "middle", "font": "DejaVu Serif", "fontSize": 22, "fontWeight": "bold", "color": "#000000", "offset": 34, "dx": 18},
        "resolve": {"scale": {"color": "independent"}, "legend": {"color": "independent"}},
        "vconcat": [
          {
            "width": 477, "height": 366,
            "title": {"text": "Avvik øst-vest vs avstand", "anchor": "middle", "frame": "group", "offset": -3},
            "data": {"name": "b"},
            "mark": {"type": "point", "shape": "circle", "filled": false, "size": 22, "strokeWidth": 1, "opacity": 1},
            "encoding": {
              "x": {"field": "km", "type": "quantitative", "scale": {"domain": [0, 40], "nice": false}, "axis": {"values": [0, 10, 20, 30, 40], "title": "Avstand i kilometer", "labelExpr": "toString(datum.value)"}},
              "y": {"field": "avvik", "type": "quantitative", "scale": {"domain": [-0.2, 0.3], "nice": false, "zero": false}, "axis": {"values": [-0.2, -0.1, 0, 0.1, 0.2, 0.3], "title": "Avvik i meter", "labelExpr": "toString(datum.value)"}},
              "color": {"datum": "CPOS-målinger", "type": "nominal", "scale": {"range": ["#00ff00"]}, "legend": {"title": null, "orient": "top-right", "offset": 10}}
            }
          }
        ]
      }
    ],
    "spacing": 60,
    "resolve": {"scale": {"color": "independent"}, "legend": {"color": "independent"}}
  },
  {
    "title": {"text": "(c)", "orient": "bottom", "anchor": "middle", "font": "DejaVu Serif", "fontSize": 22, "fontWeight": "bold", "color": "#000000", "offset": 34, "dx": 18},
    "resolve": {"scale": {"color": "independent"}, "legend": {"color": "independent"}},
    "vconcat": [
      {
        "width": 472, "height": 366,
        "title": {"text": "Avvik høyde vs avstand", "anchor": "middle", "frame": "group", "offset": -3},
        "data": {"name": "c"},
        "resolve": {"axis": {"y": "independent"}},
        "layer": [
          {
            "mark": {"type": "point", "shape": "circle", "filled": false, "size": 22, "strokeWidth": 1, "opacity": 1},
            "encoding": {
              "x": {"field": "km", "type": "quantitative", "scale": {"domain": [0, 40], "nice": false}, "axis": {"values": [0, 10, 20, 30, 40], "title": "Avstand i kilometer", "labelExpr": "toString(datum.value)"}},
              "y": {"field": "avvik", "type": "quantitative", "scale": {"domain": [-0.1, 0.1], "nice": false, "zero": false}, "axis": {"values": [-0.1, -0.05, 0, 0.05, 0.1], "title": "Avvik i meter", "labelExpr": "toString(datum.value)"}},
              "color": {"datum": "CPOS-målinger", "type": "nominal", "scale": {"range": ["#ff0000"]}, "legend": {"title": null, "orient": "top-right", "offset": 10}}
            }
          },
          {
            "mark": {"type": "point", "opacity": 0},
            "encoding": {
              "x": {"field": "km", "type": "quantitative"},
              "y": {"field": "avvik", "type": "quantitative", "scale": {"domain": [-0.1, 0.1], "nice": false, "zero": false}, "axis": {"orient": "right", "title": "I", "titleColor": "transparent", "titleFontSize": 10, "labels": false, "ticks": false, "domain": false, "titlePadding": 5.5}}
            }
          }
        ]
      }
    ]
  }
]
}
